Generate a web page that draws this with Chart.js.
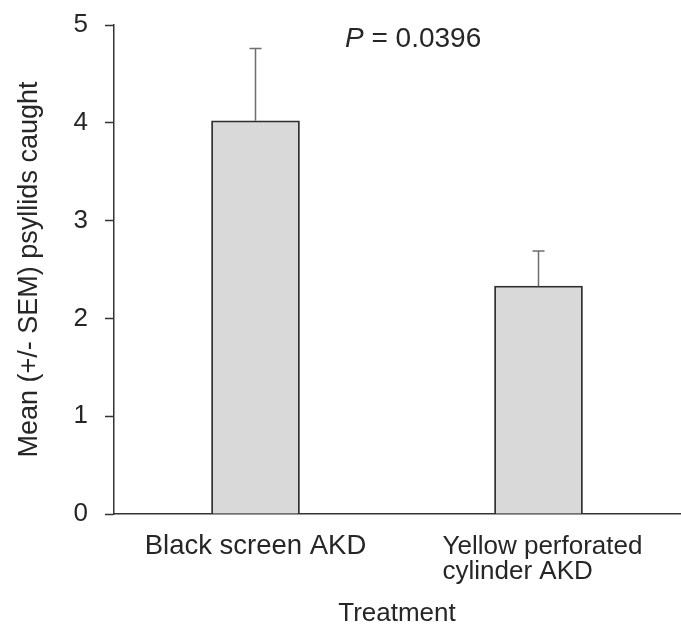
<!DOCTYPE html>
<html>
<head>
<meta charset="utf-8">
<script src="https://cdn.jsdelivr.net/npm/chart.js@4/dist/chart.umd.min.js"></script>
<style>
    html, body { margin: 0; padding: 0; background: #fff; }
    #wrap { width: 681px; height: 625px; }
</style>
</head>
<body>
<div id="wrap"><canvas id="chart" width="681" height="625"></canvas></div>
<script>
// Treatments
const categories = [["Black screen AKD"], ["Yellow perforated", "cylinder AKD"]];
const labelSizes = [27.5, 26];
const means = [4.02, 2.33];
const sems = [0.74, 0.36];
const yTicks = [0, 1, 2, 3, 4, 5];
const pText = "0.0396";

const FONT = "'Liberation Sans', Arial, sans-serif";
const INK = "#262626";

// error bars on top of each bar (upper half only)
const errorBars = {
    id: "errorBars",
    afterDatasetsDraw(chart) {
        const ctx = chart.ctx;
        const x = chart.scales.x;
        const y = chart.scales.y;
        ctx.save();
        ctx.strokeStyle = "#6e6e6e";
        ctx.lineWidth = 1.5;
        means.forEach((m, i) => {
            const px = x.getPixelForValue(i);
            const top = y.getPixelForValue(m + sems[i]);
            const base = y.getPixelForValue(m);
            ctx.beginPath();
            ctx.moveTo(px, base);
            ctx.lineTo(px, top);
            ctx.moveTo(px - 6, top);
            ctx.lineTo(px + 6, top);
            ctx.stroke();
        });
        ctx.restore();
    },
};

// category labels: single line centred, two-line block left aligned
const catLabels = {
    id: "catLabels",
    afterDraw(chart) {
        const ctx = chart.ctx;
        const x = chart.scales.x;
        const area = chart.chartArea;
        ctx.save();
        ctx.fillStyle = INK;
        ctx.textBaseline = "alphabetic";
        ctx.textAlign = "left";
        categories.forEach((lines, i) => {
            ctx.font = labelSizes[i] + "px " + FONT;
            const px = x.getPixelForValue(i);
            const w = Math.max(...lines.map((l) => ctx.measureText(l).width));
            const left = px - w / 2 + 4;
            lines.forEach((l, j) => {
                const lw = ctx.measureText(l).width;
                const lx = lines.length > 1 ? left : px - lw / 2;
                ctx.fillText(l, lx, area.bottom + 40 + j * 25);
            });
        });

        // P value note
        const y = chart.scales.y;
        const bx = area.left + 231;
        const by = y.getPixelForValue(4.77);
        ctx.font = "italic 28px " + FONT;
        ctx.fillText("P", bx, by);
        const pw = ctx.measureText("P").width;
        ctx.font = "28px " + FONT;
        ctx.fillText(" = " + pText, bx + pw, by);
        ctx.restore();
    },
};

new Chart(document.getElementById("chart"), {
    type: "bar",
    data: {
        labels: categories.map((c) => c.join(" ")),
        datasets: [
            {
                data: means,
                backgroundColor: "#d9d9d9",
                borderColor: "#2e2e2e",
                borderWidth: 1.8,
                barThickness: 88,
            },
        ],
    },
    options: {
        responsive: false,
        devicePixelRatio: 1,
        animation: false,
        layout: { padding: { top: 25, right: 1, left: 0, bottom: 0 } },
        plugins: {
            legend: { display: false },
            tooltip: { enabled: false },
        },
        scales: {
            x: {
                grid: { display: true, drawOnChartArea: false, tickLength: 0, color: "rgba(0,0,0,0)" },
                border: { display: true, color: "#333333", width: 1.5 },
                ticks: { display: false },
                title: {
                    display: true,
                    text: "Treatment",
                    color: INK,
                    font: { family: FONT, size: 26, lineHeight: 0.85 },
                    padding: { top: 0, bottom: 0 },
                },
                afterFit(scale) {
                    scale.height = 111;
                },
            },
            y: {
                min: 0,
                max: 5,
                afterBuildTicks(scale) {
                    scale.ticks = yTicks.map((v) => ({ value: v }));
                },
                grid: {
                    drawOnChartArea: false,
                    tickLength: 9,
                    tickColor: "#333333",
                    tickWidth: 1.5,
                },
                border: { display: true, color: "#333333", width: 1.5 },
                ticks: {
                    color: INK,
                    padding: 17,
                    font: { family: FONT, size: 26 },
                },
                title: {
                    display: true,
                    text: "Mean (+/- SEM) psyllids caught",
                    color: INK,
                    font: { family: FONT, size: 27 },
                    padding: { top: 13, bottom: 0 },
                },
                afterFit(scale) {
                    scale.width = 114;
                    scale.paddingTop = 16;
                    scale.paddingBottom = 16;
                },
            },
        },
    },
    plugins: [errorBars, catLabels],
});
</script>
</body>
</html>
